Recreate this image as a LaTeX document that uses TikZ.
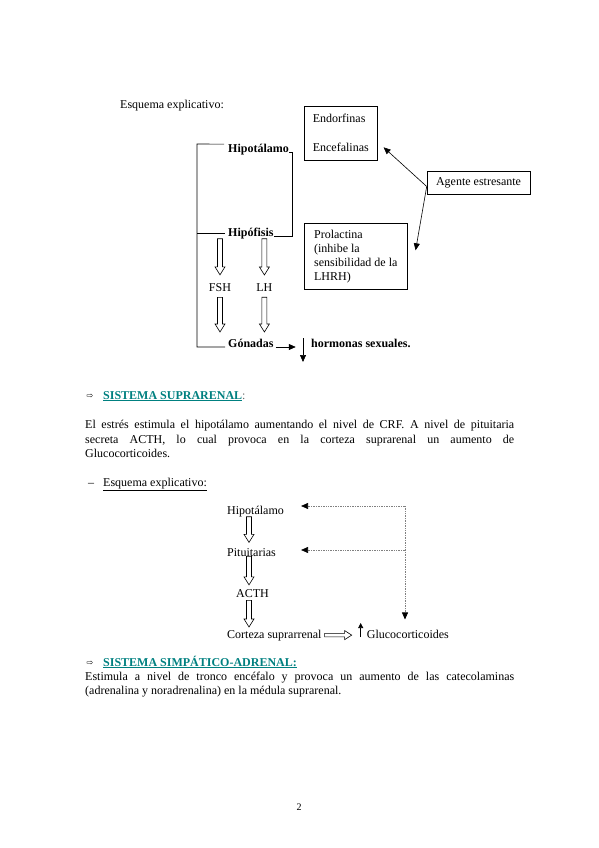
\documentclass[tikz,border=0pt]{standalone}
\usepackage{fontspec}
\setmainfont{Liberation Serif}
\newfontfamily\symfont{DejaVu Sans}
\usetikzlibrary{positioning,arrows.meta,calc}
\definecolor{tealtitle}{RGB}{0,128,128}
\newcommand{\hollowdown}[2]{%
  \draw[hollow] let \p1=#1, \p2=#2 in
    (\x1-2.5pt,\y1) -- (\x1-2.5pt,\y2+8pt) -- (\x1-5pt,\y2+8pt) -- (\x1,\y2)
    -- (\x1+5pt,\y2+8pt) -- (\x1+2.5pt,\y2+8pt) -- (\x1+2.5pt,\y1) -- cycle;}
\newcommand{\hollowright}[2]{%
  \draw[hollow] let \p1=#1, \p2=#2 in
    (\x1,\y1+1.8pt) -- (\x2-7pt,\y1+1.8pt) -- (\x2-7pt,\y1+4.5pt) -- (\x2,\y1)
    -- (\x2-7pt,\y1-4.5pt) -- (\x2-7pt,\y1-1.8pt) -- (\x1,\y1-1.8pt) -- cycle;}

\begin{document}
\begin{tikzpicture}[x=1pt,y=-1pt,
  every node/.style={inner sep=0pt,font=\fontsize{12}{14}\selectfont},
  txt/.style={anchor=base west},
  bold/.style={anchor=base west,font=\fontsize{12}{14}\selectfont\bfseries},
  box/.style={draw,line width=0.6pt,anchor=north west,align=left,inner xsep=8pt},
  hollow/.style={draw,fill=white,line width=0.6pt},
  harrow/.style={-{Triangle[length=7pt,width=6pt]},line width=0.6pt},
  fback/.style={densely dotted,gray,line width=0.7pt,-{Triangle[length=7pt,width=6pt,color=black]}},
  title/.style={anchor=base west,font=\fontsize{12}{14}\selectfont\bfseries,text=tealtitle},
  para/.style={anchor=north west,text width=429pt,align=justify}]
\useasboundingbox (0,0) rectangle (599,848);

\node[txt] (esq1) at (120,109) {Esquema explicativo:};
\node[box,minimum width=73pt,minimum height=54pt] (endorf) at (304,106) {Endorfinas\\[15pt]Encefalinas};
\node[box,minimum width=103pt,minimum height=23pt,anchor=center] (agente) at (478.5,182.5) {Agente estresante};
\node[box,minimum width=103pt,minimum height=66pt] (prolac) at (304,223) {Prolactina\\(inhibe la\\sensibilidad de la\\LHRH)};

\node[bold] (hipo) at (228,152) {Hipotálamo};
\node[bold] (hipof) at (228,236) {Hipófisis};
\node[anchor=base] (fsh) at (220,291) {FSH};
\node[right=25pt of fsh] (lh) {LH};
\node[bold] (gon) at (228,347) {Gónadas};
\node[bold] (horm) at (311,347) {hormonas sexuales.};

\coordinate (brk) at (197,144);
\draw[line width=0.6pt] ([xshift=-4pt,yshift=5pt]hipo.west) -- (brk) |- ([xshift=-3pt]gon.base west);
\draw[line width=0.6pt] (brk |- hipof.west) -- ([xshift=-3pt]hipof.west);
\draw[line width=0.6pt] (hipo.base east) -- ++(3,0) |- (hipof.base east);

\hollowdown{(fsh.north |- hipof.south)}{([yshift=8pt]fsh.north)}
\hollowdown{(lh.north |- hipof.south)}{([yshift=8pt]lh.north)}
\hollowdown{([yshift=-6pt]fsh.south)}{($(fsh.south |- gon.north)+(0,-6.5)$)}
\hollowdown{([yshift=-6pt]lh.south)}{($(lh.south |- gon.north)+(0,-6.5)$)}

\draw[harrow] ([xshift=2pt]gon.base east) -- ++(20,0);
\draw[harrow] ($(horm.base west)+(-8,-9)$) -- ++(0,24);
\draw[harrow] ([yshift=-4pt]agente.west) -- ([xshift=6pt,yshift=-14pt]endorf.east);
\draw[harrow] ([yshift=-4pt]agente.west) -- ([xshift=8pt,yshift=6pt]prolac.east);

\node[anchor=base] (arr1) at (90,398) {\symfont\fontsize{8}{8}\selectfont ⇨};
\node[title] (supra) at (103,399) {\underline{SISTEMA SUPRARENAL}\textcolor{black!60}{\mdseries:}};
\node[para,font=\fontsize{12}{14.5}\selectfont] (par1) at (85,420) {El estrés estimula el hipotálamo aumentando el nivel de CRF. A nivel de pituitaria\linebreak secreta ACTH, lo cual provoca en la corteza suprarenal un aumento de\linebreak Glucocorticoides.};
\node[anchor=base] (dash) at (91,486) {–};
\node[txt] (esq2) at (103,486) {\underline{Esquema explicativo:}};

\node[txt] (hipo2) at (227,514) {Hipotálamo};
\node[txt] (pitu) at (227,556) {Pituitarias};
\node[txt] (acth) at (236,597) {ACTH};
\node[txt] (corteza) at (227,638) {Corteza suprarrenal};
\node[right=45pt of corteza.base east,anchor=base west] (gluco) {Glucocorticoides};

\hollowdown{([xshift=22pt]hipo2.south west)}{([xshift=22pt,yshift=5.5pt]pitu.north west)}
\hollowdown{([xshift=22pt]pitu.south west)}{([xshift=13pt,yshift=4pt]acth.north west)}
\hollowdown{([xshift=13pt,yshift=-3pt]acth.south west)}{([xshift=22pt,yshift=2.5pt]corteza.north west)}
\hollowright{([xshift=3pt]corteza.east)}{([xshift=30pt]corteza.east)}
\draw[-{Triangle[length=5pt,width=5pt]},line width=0.6pt] ([xshift=-6pt,yshift=1pt]gluco.base west) -- ++(0,-14);

\coordinate (fbtop) at (405,506);
\coordinate (fbmid) at (405,550);
\draw[fback] (fbtop) -- ($(fbtop -| hipo2.east)+(17,0)$);
\draw[fback] (fbmid) -- ($(fbmid -| pitu.east)+(25,0)$);
\draw[fback] (fbtop) -- ($(fbtop |- gluco.north)+(0,-10)$);

\node[anchor=base] (arr2) at (90,665) {\symfont\fontsize{8}{8}\selectfont ⇨};
\node[title] (simpa) at (103,666) {\underline{SISTEMA SIMPÁTICO-ADRENAL:}};
\node[para,font=\fontsize{12}{14}\selectfont] (par2) at (85,672) {Estimula a nivel de tronco encéfalo y provoca un aumento de las catecolaminas\linebreak (adrenalina y noradrenalina) en la médula suprarenal.};

\node[anchor=base,font=\fontsize{10}{12}\selectfont] (page) at (299,810) {2};
\end{tikzpicture}
\end{document}
